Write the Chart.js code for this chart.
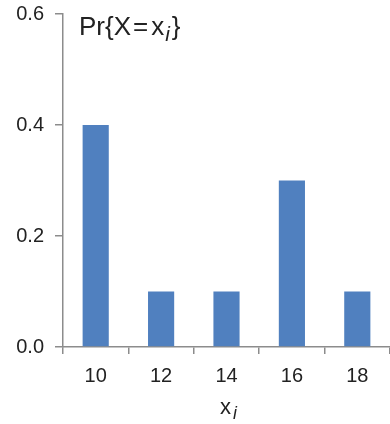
<!DOCTYPE html>
<html>
<head>
<meta charset="utf-8">
<script src="https://cdn.jsdelivr.net/npm/chart.js@4/dist/chart.umd.min.js"></script>
<style>
  html, body { margin: 0; padding: 0; background: #fff; }
  #wrap { width: 390px; height: 424px; position: relative; }
</style>
</head>
<body>
<div id="wrap"><canvas id="pmf"></canvas></div>
<script>
const CATEGORIES = ["10", "12", "14", "16", "18"];
const PROBS = [0.4, 0.1, 0.1, 0.3, 0.1];
const Y_TICKS = [0, 0.2, 0.4, 0.6];

const AXIS_GRAY = "#8c8c8c";
const FONT = "'Liberation Sans', Arial, sans-serif";

// pieces: [text, italicSubscript?, gapAfter]
function drawPieces(ctx, x, y, size, pieces, align) {
  ctx.save();
  ctx.fillStyle = "#222";
  ctx.textBaseline = "alphabetic";
  ctx.textAlign = "left";
  const fontFor = (sub) => sub ? `italic ${size * 0.8}px ${FONT}` : `${size}px ${FONT}`;
  let total = 0;
  pieces.forEach(([t, sub, gap]) => {
    ctx.font = fontFor(sub);
    total += ctx.measureText(t).width + (gap || 0);
  });
  let cx = align === "center" ? x - total / 2 : x;
  pieces.forEach(([t, sub, gap]) => {
    ctx.font = fontFor(sub);
    ctx.fillText(t, cx, sub ? y + size * 0.22 : y);
    cx += ctx.measureText(t).width + (gap || 0);
  });
  ctx.restore();
}

const labelsPlugin = {
  id: "labels",
  afterDraw(chart) {
    const { ctx, chartArea } = chart;
    drawPieces(ctx, chartArea.left + 16, 35, 26, [
      ["Pr{X", false, 2],
      ["=", false, 3],
      ["x", false, 1],
      ["i", true, 2],
      ["}", false, 0],
    ], "left");
    const xs = chart.scales.x;
    drawPieces(ctx, (xs.left + xs.right) / 2 + 2, 414, 22, [
      ["x", false, 2],
      ["i", true, 0],
    ], "center");
  },
};

new Chart(document.getElementById("pmf"), {
  type: "bar",
  data: {
    labels: CATEGORIES,
    datasets: [{
      data: PROBS,
      backgroundColor: "#5080bf",
      borderWidth: 0,
      categoryPercentage: 1,
      barPercentage: 0.4,
    }],
  },
  options: {
    responsive: true,
    maintainAspectRatio: false,
    animation: false,
    layout: { padding: { top: 14, right: 0, left: 0, bottom: 0 } },
    plugins: { legend: { display: false }, tooltip: { enabled: false } },
    scales: {
      x: {
        offset: true,
        grid: { offset: true, drawOnChartArea: false, color: AXIS_GRAY, tickLength: 7, lineWidth: 1.5 },
        border: { color: AXIS_GRAY, width: 1.5 },
        ticks: { color: "#222", font: { family: FONT, size: 20 }, padding: 10, maxRotation: 0 },
        afterFit(scale) {
          scale.height = 77;
          scale.paddingLeft = 0;
          scale.paddingRight = 0;
        },
      },
      y: {
        min: 0,
        max: 0.6,
        afterBuildTicks(scale) { scale.ticks = Y_TICKS.map((v) => ({ value: v })); },
        grid: { drawOnChartArea: false, color: AXIS_GRAY, tickLength: 8, lineWidth: 1.5 },
        border: { color: AXIS_GRAY, width: 1.5 },
        ticks: {
          color: "#222",
          font: { family: FONT, size: 20 },
          padding: 11,
          callback: (v) => Number(v).toFixed(1),
        },
        afterFit(scale) {
          scale.width = 63;
          scale.paddingTop = 0;
          scale.paddingBottom = 0;
        },
      },
    },
  },
  plugins: [labelsPlugin],
});
</script>
</body>
</html>
